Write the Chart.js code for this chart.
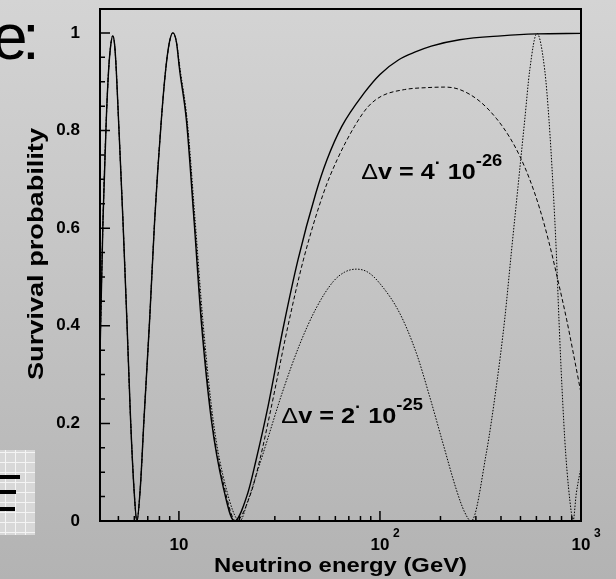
<!DOCTYPE html>
<html>
<head>
<meta charset="utf-8">
<script src="https://cdn.jsdelivr.net/npm/chart.js@4.4.1/dist/chart.umd.min.js"></script>
<style>
  html, body { margin: 0; padding: 0; }
  body {
    width: 616px; height: 579px; overflow: hidden; position: relative;
    background: linear-gradient(to bottom, #d4d4d4, #b3b3b3);
  }
  #icon {
    position: absolute; left: 0; top: 450px; width: 35px; height: 85px;
    background-color: #d8d8d8;
    background-image: linear-gradient(to right, #f4f4f4 1px, transparent 1px),
                      linear-gradient(to bottom, #f4f4f4 1px, transparent 1px);
    background-size: 10px 10px;
    background-position: 5px 2px;
  }
  .bar { position: absolute; left: 0; height: 4px; background: #000; }
  canvas { position: absolute; left: 0; top: 0; }
</style>
</head>
<body>
<div id="icon">
  <div class="bar" style="top:25px;width:20px"></div>
  <div class="bar" style="top:40px;width:16px"></div>
  <div class="bar" style="top:57px;width:15px"></div>
</div>
<canvas id="survival-chart" width="616" height="579"></canvas>
<script>
const FONT = "'Liberation Sans', Arial, Helvetica, sans-serif";

// standard oscillation (solid)
const energyStd = [4.05, 4.19, 4.35, 4.47, 4.58, 4.69, 4.79, 4.88, 5.01, 5.27, 5.51, 5.75, 5.97, 6.18, 6.43, 6.70, 7.15, 7.57, 8.17,
  8.59, 8.97, 9.33, 9.72, 10.08, 10.9, 11.9, 12.9, 14.5, 16.6, 18.9, 22.0, 24.2, 27.5, 33.1, 39.1, 48.0, 54.5, 64.5, 83.5, 100, 124,
  150, 180, 249, 400, 600, 1000];
const probStd = [0.34, 0.614, 0.82, 0.924, 0.975, 0.994, 0.975, 0.924, 0.82, 0.614, 0.412, 0.207, 0.07, 0, 0.07, 0.207, 0.412, 0.614,
  0.82, 0.924, 0.981, 1.0, 0.981, 0.924, 0.82, 0.614, 0.412, 0.207, 0.07, 0, 0.057, 0.125, 0.227, 0.398, 0.535, 0.672, 0.74, 0.808,
  0.877, 0.915, 0.945, 0.961, 0.973, 0.986, 0.994, 0.998, 0.999];

// dv = 4e-26 (dashed)
const energyDv4 = [4.05, 4.19, 4.35, 4.47, 4.58, 4.69, 4.79, 4.88, 5.01, 5.27, 5.51, 5.75, 5.97, 6.18, 6.43, 6.70, 7.15, 7.57, 8.17,
  8.59, 8.97, 9.33, 9.72, 10.1, 10.95, 11.95, 13.0, 14.6, 16.8, 19.2, 22.8, 25.25, 28.6, 34.8, 41.6, 52.4, 61.2, 74.6, 86.9, 101.3,
  132.7, 172.7, 209.8, 249.2, 313.3, 380.7, 441.9, 495.5, 555.6, 623.1, 698.8, 765.9, 849, 909.5, 1000];
const probDv4 = [0.34, 0.614, 0.82, 0.924, 0.975, 0.994, 0.975, 0.924, 0.82, 0.614, 0.412, 0.207, 0.07, 0, 0.07, 0.207, 0.412, 0.614,
  0.82, 0.924, 0.981, 1.0, 0.981, 0.924, 0.82, 0.614, 0.412, 0.207, 0.07, 0, 0.057, 0.125, 0.227, 0.398, 0.535, 0.672, 0.74, 0.808,
  0.848, 0.870, 0.884, 0.888, 0.889, 0.884, 0.860, 0.824, 0.786, 0.748, 0.700, 0.640, 0.565, 0.495, 0.412, 0.350, 0.262];

// dv = 2e-25 (dotted)
const energyDv2 = [4.05, 4.19, 4.35, 4.47, 4.58, 4.69, 4.79, 4.88, 5.01, 5.27, 5.51, 5.75, 5.97, 6.18, 6.43, 6.70, 7.15, 7.57, 8.17,
  8.59, 8.97, 9.33, 9.72, 10.15, 11.0, 12.05, 13.15, 14.8, 17.1, 20.1, 21.97, 24.07, 27.2, 32.6, 39.9, 48.3, 58.4, 66.8, 76.3, 86.9,
  99.7, 125.3, 151.7, 176.7, 205.8, 240, 263.8, 284.2, 338, 379, 417, 450, 486, 525, 556, 604, 660, 693, 726, 754, 777, 804, 839, 896,
  913, 948, 1000];
const probDv2 = [0.34, 0.614, 0.82, 0.924, 0.975, 0.994, 0.975, 0.924, 0.82, 0.614, 0.412, 0.207, 0.07, 0, 0.07, 0.207, 0.412, 0.614,
  0.82, 0.924, 0.981, 1.0, 0.981, 0.924, 0.82, 0.614, 0.412, 0.207, 0.07, 0, 0.04, 0.09, 0.159, 0.262, 0.362, 0.437, 0.490, 0.510,
  0.516, 0.510, 0.487, 0.426, 0.344, 0.255, 0.159, 0.064, 0.018, 0, 0.139, 0.275, 0.412, 0.549, 0.685, 0.822, 0.924, 0.999, 0.924,
  0.822, 0.685, 0.549, 0.412, 0.275, 0.139, 0.016, 0, 0.057, 0.11];

const yTickValues = [0, 0.2, 0.4, 0.6, 0.8, 1];
const yTickLabels = ["0", "0.2", "0.4", "0.6", "0.8", "1"];
const xLabelValues = [10, 100, 1000];
const xLabelBase = ["10", "10", "10"];
const xLabelExp = ["", "2", "3"];

const toPoints = (xs, ys) => xs.map((v, i) => ({ x: v, y: ys[i] }));

// draws text centred on the origin, squeezed/stretched to a given width
function drawStretched(ctx, text, font, width) {
  ctx.font = font;
  const w = ctx.measureText(text).width;
  ctx.scale(width / w, 1);
  ctx.textAlign = "center";
  ctx.fillText(text, 0, 0);
}

function drawDeltaLabel(ctx, left, base, mant, expo, width) {
  const runs = [
    ["\u0394", "22px ", 0],
    ["v = " + mant, "bold 22px ", 0],
    ["\u00b7", "bold 16px ", -11],
    [" 10", "bold 22px ", 0],
    [expo, "bold 16px ", -13]
  ];
  let total = 0;
  runs.forEach(r => { ctx.font = r[1] + FONT; total += ctx.measureText(r[0]).width; });
  ctx.save();
  ctx.translate(left, base);
  ctx.scale(width / total, 1);
  ctx.textAlign = "left";
  let cx = 0;
  runs.forEach(r => {
    ctx.font = r[1] + FONT;
    ctx.fillText(r[0], cx, r[2]);
    cx += ctx.measureText(r[0]).width;
  });
  ctx.restore();
}

const frameAndText = {
  id: "frameAndText",
  afterDatasetsDraw(chart) {
    const { ctx, chartArea: a, scales: { x, y } } = chart;
    ctx.save();
    ctx.strokeStyle = "#000";
    ctx.fillStyle = "#000";

    // inward ticks
    ctx.lineWidth = 1.5;
    ctx.beginPath();
    for (let i = 0; i <= 20; i++) {
      const py = y.getPixelForValue(i * 0.05);
      ctx.moveTo(a.left, py);
      ctx.lineTo(a.left + (i % 4 === 0 ? 10 : 5), py);
    }
    [1, 10, 100].forEach(d => {
      for (let m = 1; m <= 9; m++) {
        const v = d * m;
        if (v <= x.min || v >= x.max) continue;
        const px = x.getPixelForValue(v);
        ctx.moveTo(px, a.bottom);
        ctx.lineTo(px, a.bottom - (m === 1 ? 10 : 5));
      }
    });
    ctx.stroke();

    ctx.lineWidth = 2;
    ctx.strokeRect(a.left, a.top, a.right - a.left, a.bottom - a.top);

    ctx.textBaseline = "alphabetic";

    // x tick labels with exponents
    xLabelValues.forEach((v, i) => {
      const px = x.getPixelForValue(v);
      ctx.font = "bold 17px " + FONT;
      ctx.textAlign = "center";
      ctx.fillText(xLabelBase[i], px, 550);
      if (xLabelExp[i]) {
        const w = ctx.measureText(xLabelBase[i]).width;
        ctx.font = "bold 12px " + FONT;
        ctx.textAlign = "left";
        ctx.fillText(xLabelExp[i], px + w / 2 + 3.5, 537);
      }
    });

    // axis titles
    ctx.save();
    ctx.translate(340.5, 572);
    drawStretched(ctx, "Neutrino energy (GeV)", "bold 21px " + FONT, 253);
    ctx.restore();

    ctx.save();
    ctx.translate(42.5, 254);
    ctx.rotate(-Math.PI / 2);
    drawStretched(ctx, "Survival probability", "bold 22px " + FONT, 252);
    ctx.restore();

    // curve labels
    drawDeltaLabel(ctx, x.getPixelForValue(80.7), y.getPixelForValue(0.70), "4", "-26", 141);
    drawDeltaLabel(ctx, x.getPixelForValue(32.3), y.getPixelForValue(0.20), "2", "-25", 141.6);

    // leftover slide text
    ctx.font = "64px " + FONT;
    ctx.textAlign = "left";
    ctx.fillText("e", -8, 59);
    ctx.fillText(":", 22, 59);

    ctx.restore();
  }
};

const lineStyle = {
  borderColor: "#000",
  pointRadius: 0,
  fill: false,
  cubicInterpolationMode: "monotone"
};

new Chart(document.getElementById("survival-chart"), {
  type: "line",
  data: {
    datasets: [
      { ...lineStyle, label: "dv = 2e-25", data: toPoints(energyDv2, probDv2), borderWidth: 1, borderDash: [1.5, 1.5] },
      { ...lineStyle, label: "dv = 4e-26", data: toPoints(energyDv4, probDv4), borderWidth: 1, borderDash: [4, 2.5] },
      { ...lineStyle, label: "no VLI", data: toPoints(energyStd, probStd), borderWidth: 1.4 }
    ]
  },
  options: {
    responsive: false,
    animation: false,
    devicePixelRatio: 1,
    layout: { padding: { top: 9, right: 35, left: 0, bottom: 0 } },
    plugins: { legend: { display: false }, tooltip: { enabled: false } },
    scales: {
      x: {
        type: "logarithmic",
        min: 4.05,
        max: 1000,
        grid: { display: false, drawTicks: false },
        border: { display: false },
        ticks: { display: false },
        afterFit: s => { s.height = 58; }
      },
      y: {
        type: "linear",
        min: 0,
        max: 1.049,
        // tick marks are drawn by the plugin; tickLength only spaces the labels
        grid: { display: false, drawTicks: true, tickLength: 20 },
        border: { display: false },
        afterBuildTicks: s => { s.ticks = yTickValues.map(v => ({ value: v })); },
        ticks: {
          color: "#000",
          padding: 0,
          font: { family: FONT, size: 17, weight: "bold", lineHeight: 1 },
          callback: (v, i) => yTickLabels[i]
        },
        afterFit: s => { s.width = 100; }
      }
    }
  },
  plugins: [frameAndText]
});
</script>
</body>
</html>
